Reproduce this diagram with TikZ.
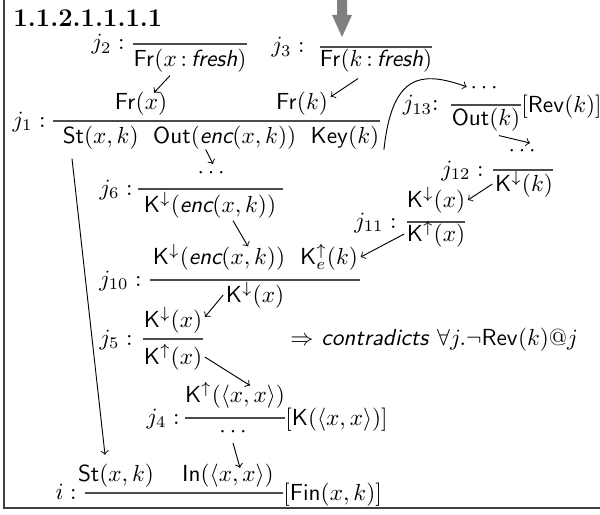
\documentclass[tikz,border=0pt]{standalone}
\usepackage{amsmath,amssymb}
\usetikzlibrary{calc}
\newcommand{\pred}[1]{\mathsf{#1}}
\newcommand{\sfit}[1]{\textsf{\itshape #1}}
\newcommand{\Kd}{\pred{K}^{\downarrow}}
\newcommand{\Ku}{\pred{K}^{\uparrow}}

\begin{document}
\begin{tikzpicture}[x=0.43pt,y=-0.43pt,
  fml/.style={anchor=base,inner sep=1pt},
  lab/.style={anchor=base east,inner sep=0pt},
  side/.style={anchor=west,inner sep=0pt},
  rline/.style={draw=black!70,line width=0.6pt}]
  \useasboundingbox (0,0) rectangle (600,514);
  \draw[black!75,line width=1pt] (4,-10) -- (4,508) -- (610,508);
  \fill[black!50] (337,-5) -- (347,-5) -- (347,15) -- (352,15) -- (342,37) -- (332,15) -- (337,15) -- cycle;
  \node[anchor=west,inner sep=0pt,font=\fontsize{11}{13}\selectfont\bfseries] (title) at (13,18) {1.1.2.1.1.1.1};
  % j2, j3
  \draw[rline] (133,44) -- (247,44);
  \node[lab] (l2) at (125,50) {$j_2:$};
  \node[fml] (c2) at (190,67) {$\pred{Fr}(x\,{:}\,\sfit{fresh})$};
  \draw[rline] (320,47) -- (432,47);
  \node[lab] (l3) at (305,53) {$j_3:$};
  \node[fml] (c3) at (376,67) {$\pred{Fr}(k\,{:}\,\sfit{fresh})$};
  % j1
  \draw[rline] (53,121) -- (380,121);
  \node[lab] (l1) at (46,127) {$j_1:$};
  \node[fml] (p1a) at (141,109) {$\pred{Fr}(x)$};
  \node[fml] (p1b) at (302,109) {$\pred{Fr}(k)$};
  \node[fml,anchor=base west] (c1a) at (60,144) {$\pred{St}(x,k)$};
  \node[fml,anchor=base west] (c1b) at ($(c1a.base east)+(9,0)$) {$\pred{Out}(\sfit{enc}(x,k))$};
  \node[fml,anchor=base west] (c1c) at ($(c1b.base east)+(9,0)$) {$\pred{Key}(k)$};
  % j13
  \draw[rline] (451,105) -- (521,105);
  \node[lab] (l13) at (439,111) {$j_{13}{:}$};
  \node[fml] (p13) at (486,94) {$\cdots$};
  \node[fml] (c13) at (486,126) {$\pred{Out}(k)$};
  \node[side] (s13) at (521,107) {$[\pred{Rev}(k)]$};
  % j12
  \draw[rline] (493,170) -- (553,170);
  \node[lab] (l12) at (484,176) {$j_{12}:$};
  \node[fml] (p12) at (524,157) {$\cdots$};
  \node[fml] (c12) at (524,191) {$\Kd(k)$};
  % j11
  \draw[rline] (407,222) -- (465,222);
  \node[lab] (l11) at (397,228) {$j_{11}:$};
  \node[fml] (p11) at (436,207) {$\Kd(x)$};
  \node[fml] (c11) at (436,241) {$\Ku(x)$};
  % j6
  \draw[rline] (138,189) -- (283,189);
  \node[lab] (l6) at (133,195) {$j_6:$};
  \node[fml] (p6) at (213,178) {$\cdots$};
  \node[fml] (c6) at (210,212) {$\Kd(\sfit{enc}(x,k))$};
  % j10
  \draw[rline] (150,280) -- (360,280);
  \node[lab] (l10) at (142,286) {$j_{10}:$};
  \node[fml] (p10a) at (219,264) {$\Kd(\sfit{enc}(x,k))$};
  \node[fml] (p10b) at (329,264) {$\pred{K}_e^{\uparrow}(k)$};
  \node[fml] (c10) at (255,302) {$\Kd(x)$};
  % j5
  \draw[rline] (143,339) -- (203,339);
  \node[lab] (l5) at (133,345) {$j_5:$};
  \node[fml] (p5) at (173,327) {$\Kd(x)$};
  \node[fml] (c5) at (173,364) {$\Ku(x)$};
  \node[side] (contra) at (290,340) {$\Rightarrow$ \sfit{contradicts} $\forall j.\neg\pred{Rev}(k)@j$};
  % j4
  \draw[rline] (185,418) -- (285,418);
  \node[lab] (l4) at (180,424) {$j_4:$};
  \node[fml] (p4) at (235,402) {$\Ku(\langle x,x\rangle)$};
  \node[fml] (c4) at (235,437) {$\cdots$};
  \node[side] (s4) at (285,420) {$[\pred{K}(\langle x,x\rangle)]$};
  % i
  \draw[rline] (85,493) -- (283,493);
  \node[lab] (li) at (77,499) {$i:$};
  \node[fml] (pia) at (116,481) {$\pred{St}(x,k)$};
  \node[fml] (pib) at (228,481) {$\pred{In}(\langle x,x\rangle)$};
  \node[side] (si) at (283,495) {$[\pred{Fin}(x,k)]$};
  % arrows
  \draw[->] ($(c2.south)+(-20,0)$) -- ($(p1a.north)+(13,4)$);
  \draw[->] ($(c3.south)+(-18,3)$) -- ($(p1b.north east)+(0,8)$);
  \draw[->] ($(c1c.south east)+(2,-3)$) .. controls (392,75) and (420,70) .. ($(p13.west)+(-1,-2)$);
  \draw[->] ($(c1b.south)+(-19,-3)$) -- ($(p6.base)+(0,-14)$);
  \draw[->] ($(c6.south)+(23,0)$) -- ($(p10a.north)+(29,5)$);
  \draw[->] ($(c13.south)+(13,1)$) -- ($(p12.base)+(6,-14)$);
  \draw[->] (c12.west) -- (p11.east);
  \draw[->] (c11.west) -- (p10b.east);
  \draw[->] (c10.west) -- ($(p5.east)+(0,-3)$);
  \draw[->] (c5.east) -- ($(p4.north)+(15,6)$);
  \draw[->] ($(c4.base)+(-2,6)$) -- ($(pib.north)+(12,7)$);
  \draw[->] ($(c1a.south west)+(12,6)$) -- ($(pia.north)+(-11,-6)$);
\end{tikzpicture}
\end{document}
